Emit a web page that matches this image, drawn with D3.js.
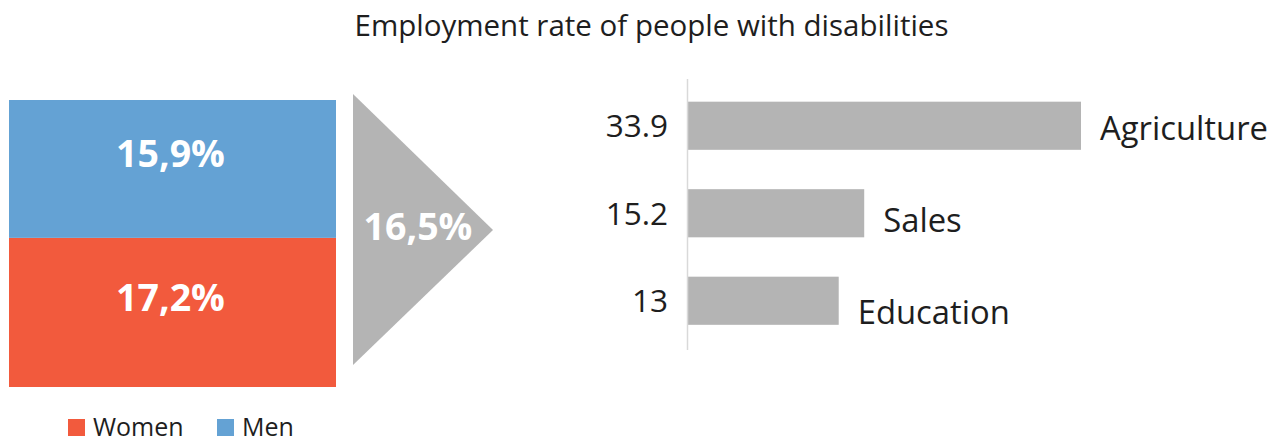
<!DOCTYPE html>
<html>
<head>
<meta charset="utf-8">
<script src="https://cdn.jsdelivr.net/npm/d3@7"></script>
<style>
  html, body { margin: 0; padding: 0; background: #fff; }
  svg { display: block; font-family: "Open Sans", "Noto Sans", sans-serif; }
</style>
</head>
<body>
<svg id="chart" width="1271" height="438"></svg>
<script>
// Employment rate by gender (stacked box), overall rate (arrow), top sectors (bars)
const genderGroups = ["Women", "Men"];
const genderRates = [17.2, 15.9];
const genderColors = ["#F25A3D", "#64A2D4"];
const overallRate = 16.5;
const sectors = ["Agriculture", "Sales", "Education"];
const sectorRates = [33.9, 15.2, 13];
const titleText = "Employment rate of people with disabilities";

const svg = d3.select("#chart");
const textColor = "#1e1e1e";

// comma as decimal separator
const locale = d3.formatLocale({ decimal: ",", thousands: ".", grouping: [3], currency: ["", "%"] });
const pct = v => locale.format(".1f")(v) + "%";

// Title
svg.append("text")
  .attr("x", 651.5).attr("y", 36)
  .attr("text-anchor", "middle")
  .attr("font-size", 29.5)
  .attr("fill", textColor)
  .text(titleText);

// ---- Stacked gender box ----
const total = d3.sum(genderRates);
const yStack = d3.scaleLinear().domain([0, total]).range([387, 100]);
const stackData = genderGroups.map((g, i) => ({
  group: g,
  value: genderRates[i],
  y0: d3.sum(genderRates.slice(0, i)),
  y1: d3.sum(genderRates.slice(0, i + 1)),
  color: genderColors[i]
}));
const boxX0 = 9, boxX1 = 336;

const seg = svg.append("g").selectAll("g").data(stackData).join("g");
seg.append("rect")
  .attr("x", boxX0)
  .attr("width", boxX1 - boxX0)
  .attr("y", d => yStack(d.y1))
  .attr("height", d => yStack(d.y0) - yStack(d.y1))
  .attr("fill", d => d.color);
seg.append("text")
  .attr("x", (boxX0 + boxX1) / 2 - 2)
  .attr("y", d => (yStack(d.y0) + yStack(d.y1)) / 2 - 15)
  .attr("dy", "0.36em")
  .attr("text-anchor", "middle")
  .attr("font-size", 37.5)
  .attr("font-weight", 700)
  .attr("fill", "#fff")
  .text(d => pct(d.value));

// ---- Overall arrow ----
const arrow = svg.append("g");
arrow.append("path")
  .attr("d", d3.line()([[353, 94], [493, 230], [353, 365]]) + "Z")
  .attr("fill", "#B4B4B4");
arrow.append("text")
  .attr("x", 418).attr("y", 226)
  .attr("dy", "0.36em")
  .attr("text-anchor", "middle")
  .attr("font-size", 37.5)
  .attr("font-weight", 700)
  .attr("fill", "#fff")
  .text(pct(overallRate));

// ---- Legend ----
const legend = svg.append("g");
const legendX = [68, 217];
genderGroups.forEach((g, i) => {
  const lg = legend.append("g").attr("transform", `translate(${legendX[i]},419)`);
  lg.append("rect").attr("width", 17).attr("height", 17).attr("fill", genderColors[i]);
  lg.append("text")
    .attr("x", 25).attr("y", 16.5)
    .attr("font-size", 25)
    .attr("fill", textColor)
    .text(g);
});

// ---- Sector bars ----
const axisX = 688;
const x = d3.scaleLinear().domain([0, d3.max(sectorRates)]).range([axisX, 1081]);
const y = d3.scaleBand().domain(sectors).range([82, 344.5]).paddingInner(0.45).paddingOuter(0.225);
const yLabel = d3.scaleBand().domain(sectors).range([82, 358]).paddingOuter(0.0);

const barG = svg.append("g");
barG.selectAll("rect").data(sectors).join("rect")
  .attr("x", x(0))
  .attr("y", d => y(d))
  .attr("width", (d, i) => x(sectorRates[i]) - x(0))
  .attr("height", y.bandwidth())
  .attr("fill", "#B4B4B4");

// value labels left of axis
barG.selectAll("text.val").data(sectors).join("text")
  .attr("class", "val")
  .attr("x", axisX - 20)
  .attr("y", d => y(d) + y.bandwidth() / 2)
  .attr("dy", "0.36em")
  .attr("text-anchor", "end")
  .attr("font-size", 31.5)
  .attr("fill", textColor)
  .text((d, i) => sectorRates[i]);

// category labels right of bars
barG.selectAll("text.cat").data(sectors).join("text")
  .attr("class", "cat")
  .attr("x", (d, i) => x(sectorRates[i]) + 19)
  .attr("y", d => yLabel(d) + yLabel.bandwidth() / 2)
  .attr("dy", "0.36em")
  .attr("font-size", 32.8)
  .attr("fill", textColor)
  .text(d => d);

// vertical axis line
svg.append("line")
  .attr("x1", axisX - 0.5).attr("x2", axisX - 0.5)
  .attr("y1", 79).attr("y2", 350)
  .attr("stroke", "#D9D9D9")
  .attr("stroke-width", 1.5);
</script>
</body>
</html>
